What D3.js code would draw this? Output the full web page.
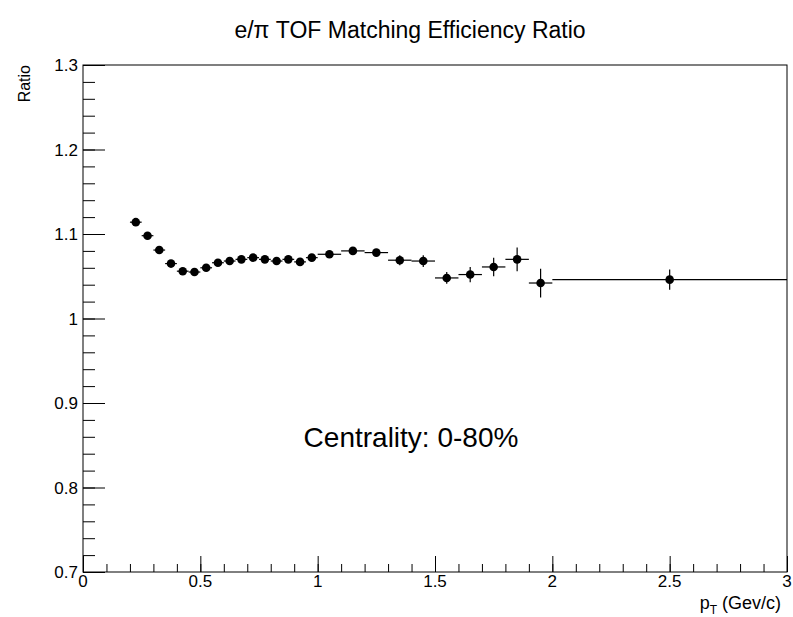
<!DOCTYPE html>
<html>
<head>
<meta charset="utf-8">
<script src="https://cdn.jsdelivr.net/npm/d3@7/dist/d3.min.js"></script>
<style>
  html, body { margin: 0; padding: 0; background: #fff; }
  svg { display: block; font-family: "Liberation Sans", Arial, Helvetica, sans-serif; }
</style>
</head>
<body>
<svg id="chart" width="793" height="617"></svg>
<script>
// Bin edges (GeV/c) and measured e/pi TOF matching efficiency ratio per bin
const binLow  = [0.20,0.25,0.30,0.35,0.40,0.45,0.50,0.55,0.60,0.65,0.70,0.75,0.80,0.85,0.90,0.95,
                 1.0,1.1,1.2,1.3,1.4,1.5,1.6,1.7,1.8,1.9,2.0];
const binHigh = [0.25,0.30,0.35,0.40,0.45,0.50,0.55,0.60,0.65,0.70,0.75,0.80,0.85,0.90,0.95,1.00,
                 1.1,1.2,1.3,1.4,1.5,1.6,1.7,1.8,1.9,2.0,3.0];
const ratio   = [1.114,1.098,1.081,1.065,1.056,1.055,1.060,1.066,1.068,1.070,1.072,1.070,1.068,1.070,1.067,1.072,
                 1.076,1.080,1.078,1.069,1.068,1.048,1.052,1.061,1.070,1.042,1.046];
const ratioErr= [0.002,0.002,0.002,0.002,0.002,0.002,0.002,0.002,0.002,0.002,0.002,0.002,0.002,0.002,0.002,0.003,
                 0.003,0.004,0.004,0.006,0.007,0.007,0.009,0.011,0.014,0.017,0.012];

const xMajorTicks = [0, 0.5, 1, 1.5, 2, 2.5, 3];
const yMajorTicks = [0.7, 0.8, 0.9, 1.0, 1.1, 1.2, 1.3];

const svg = d3.select("#chart");
const W = 793, H = 617;
const m = { left: 83, right: 6, top: 65, bottom: 45 };

const x = d3.scaleLinear().domain([0, 3]).range([m.left, W - m.right]);
const y = d3.scaleLinear().domain([0.7, 1.3]).range([H - m.bottom, m.top]);

const fmtX = v => String(v);
const fmtY = v => (Number.isInteger(v) ? String(v) : v.toFixed(1));

// Frame
svg.append("rect")
  .attr("x", x(0)).attr("y", y(1.3))
  .attr("width", x(3) - x(0)).attr("height", y(0.7) - y(1.3))
  .attr("fill", "none").attr("stroke", "#000").attr("stroke-width", 1);

// Bottom axis: ticks drawn inward (upward)
const xMinor = d3.range(0, 3.0001, 0.1).map(v => +v.toFixed(2));
const gx = svg.append("g").attr("transform", `translate(0,${y(0.7)})`);
gx.call(d3.axisBottom(x).tickValues(xMinor).tickSize(-8).tickFormat(""))
  .call(g => g.select(".domain").remove());
gx.append("g").call(d3.axisBottom(x).tickValues(xMajorTicks).tickSize(-16).tickFormat(""))
  .call(g => g.select(".domain").remove());
gx.selectAll("line").attr("stroke", "#000");

svg.append("g").selectAll("text").data(xMajorTicks).join("text")
  .attr("x", d => x(d)).attr("y", y(0.7) + 15)
  .attr("text-anchor", "middle")
  .attr("font-size", 17)
  .text(fmtX);

// Left axis: ticks drawn inward (rightward)
const yMinor = d3.range(0.7, 1.3001, 0.02).map(v => +v.toFixed(2));
const gy = svg.append("g").attr("transform", `translate(${x(0)},0)`);
gy.call(d3.axisLeft(y).tickValues(yMinor).tickSize(-12).tickFormat(""))
  .call(g => g.select(".domain").remove());
gy.append("g").call(d3.axisLeft(y).tickValues(yMajorTicks).tickSize(-22).tickFormat(""))
  .call(g => g.select(".domain").remove());
gy.selectAll("line").attr("stroke", "#000");

svg.append("g").selectAll("text").data(yMajorTicks).join("text")
  .attr("x", x(0) - 5).attr("y", d => y(d))
  .attr("dy", "0.36em")
  .attr("text-anchor", "end")
  .attr("font-size", 17)
  .text(fmtY);

// Data: horizontal bin-width bars, vertical statistical errors, markers
const pts = ratio.map((v, i) => ({ lo: binLow[i], hi: binHigh[i], v, e: ratioErr[i], c: (binLow[i] + binHigh[i]) / 2 }));
const gd = svg.append("g");
gd.selectAll("line.h").data(pts).join("line").attr("class", "h")
  .attr("x1", d => x(d.lo)).attr("x2", d => x(d.hi))
  .attr("y1", d => y(d.v)).attr("y2", d => y(d.v))
  .attr("stroke", "#000").attr("stroke-width", 1.2);
gd.selectAll("line.v").data(pts).join("line").attr("class", "v")
  .attr("x1", d => x(d.c)).attr("x2", d => x(d.c))
  .attr("y1", d => y(d.v - d.e)).attr("y2", d => y(d.v + d.e))
  .attr("stroke", "#000").attr("stroke-width", 1.2);
gd.selectAll("circle").data(pts).join("circle")
  .attr("cx", d => x(d.c)).attr("cy", d => y(d.v)).attr("r", 4.3)
  .attr("fill", "#000");

// Title
svg.append("text")
  .attr("x", 410).attr("y", 38)
  .attr("text-anchor", "middle")
  .attr("font-size", 23)
  .text("e/\u03c0 TOF Matching Efficiency Ratio");

// Axis titles
const xt = svg.append("text")
  .attr("x", x(3) - 6).attr("y", 609)
  .attr("text-anchor", "end")
  .attr("font-size", 18);
xt.append("tspan").text("p");
xt.append("tspan").attr("font-size", 12).attr("dy", 5).text("T");
xt.append("tspan").attr("dy", -5).text(" (Gev/c)");

svg.append("text")
  .attr("transform", `translate(30,${y(1.3)}) rotate(-90)`)
  .attr("text-anchor", "end")
  .attr("font-size", 16)
  .text("Ratio");

// Annotation
svg.append("text")
  .attr("x", 411).attr("y", 447)
  .attr("text-anchor", "middle")
  .attr("font-size", 28)
  .text("Centrality: 0-80%");
</script>
</body>
</html>
